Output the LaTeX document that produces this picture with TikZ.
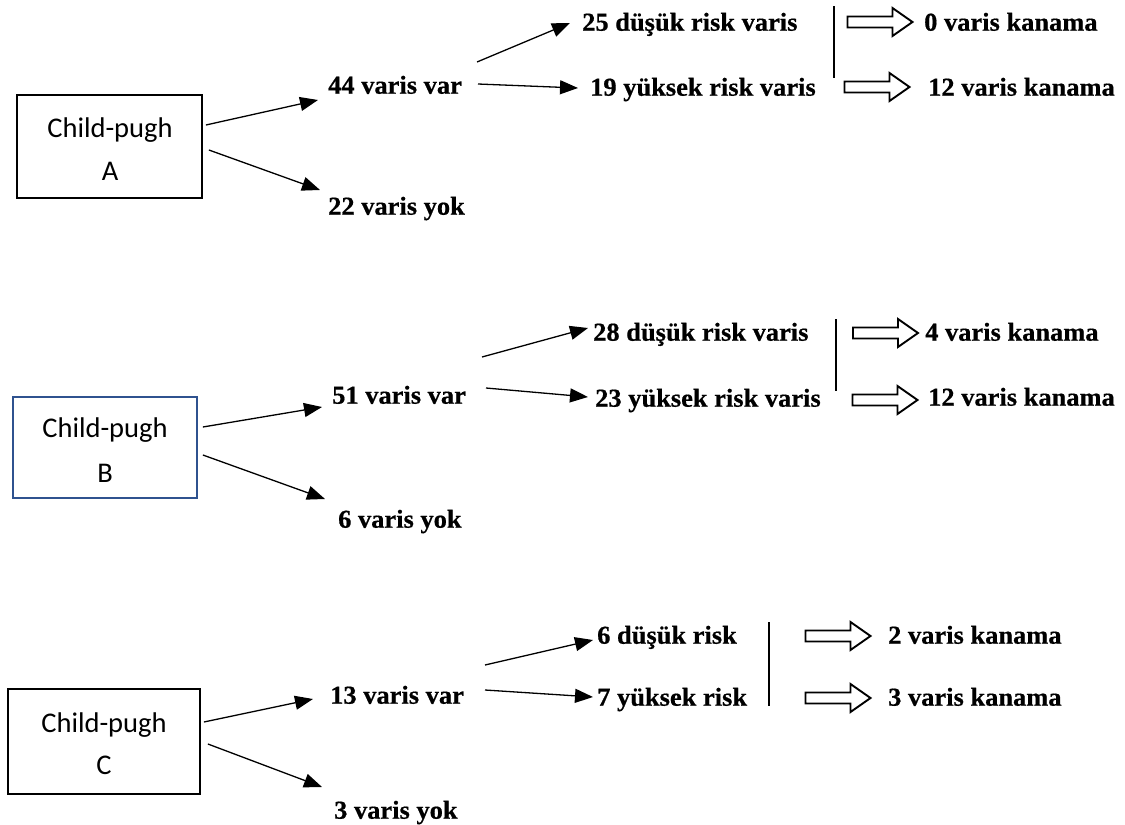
\documentclass[tikz,border=0pt]{standalone}
\usepackage{fontspec}
\usetikzlibrary{arrows.meta}
\newfontfamily\lblfont[FakeBold=0.6,FakeStretch=1.025]{Liberation Serif}
\newfontfamily\boxfont{Carlito}
\definecolor{boxblue}{HTML}{2F528F}
\begin{document}
\begin{tikzpicture}[x=1pt,y=-1pt,
  lbl/.style={anchor=west,inner sep=0pt,text height=17.4pt,text depth=0pt,
    font=\lblfont\bfseries\fontsize{25.8}{30}\selectfont},
  cpbox/.style={draw,line width=1.8pt,inner sep=0pt},
  cptext/.style={anchor=base,inner sep=0pt,font=\boxfont\fontsize{28.5}{34}\selectfont},
  arr/.style={line width=1.3pt,-{Triangle[length=18pt,width=14pt]}},
  divider/.style={line width=1.3pt},
  hollow/.pic={\draw[line width=1.9pt,line join=miter]
    (-32,-5.5) -- (13,-5.5) -- (13,-14) -- (33,0) -- (13,14) -- (13,5.5) -- (-32,5.5) -- cycle;}]
\useasboundingbox (0,0) rectangle (1125,825);

% ---------- Child-pugh A ----------
\node[cpbox,minimum width=185pt,minimum height=103pt] (boxA) at (109.5,146.5) {};
\node[cptext] (boxA-t1) at (110,137) {Child-pugh};
\node[cptext] (boxA-t2) at (110,180) {A};

\node[lbl] (avar)  at (328,85)  {44 varis var};
\node[lbl] (ayok)  at (328,206) {22 varis yok};
\node[lbl] (alow)  at (582,22)  {25 düşük risk varis};
\node[lbl] (ahigh) at (590,87)  {19 yüksek risk varis};
\node[lbl] (ak1)   at (924,22)  {0 varis kanama};
\node[lbl] (ak2)   at (928,87)  {12 varis kanama};

\draw[arr] ([shift={(3,-21.5)}]boxA.east) -- ([shift={(-10,15)}]avar.west);
\draw[arr] ([shift={(6,3.5)}]boxA.east) -- ([shift={(-8,-16)}]ayok.west);
\draw[arr] ([shift={(149,-23)}]avar.west) -- ([shift={(-12,1)}]alow.west);
\draw[arr] ([shift={(150,-1)}]avar.west) -- ([shift={(-12,1)}]ahigh.west);
\draw[divider] (834,6) -- (834,78);
\pic (ha1) at (879.5,22) {hollow};
\pic (ha2) at (876.5,87) {hollow};

% ---------- Child-pugh B ----------
\node[cpbox,draw=boxblue,minimum width=184pt,minimum height=101pt] (boxB) at (105,447.5) {};
\node[cptext] (boxB-t1) at (105,437) {Child-pugh};
\node[cptext] (boxB-t2) at (105,482) {B};

\node[lbl] (bvar)  at (332,395) {51 varis var};
\node[lbl] (byok)  at (338,519) {6 varis yok};
\node[lbl] (blow)  at (593,332) {28 düşük risk varis};
\node[lbl] (bhigh) at (595,398) {23 yüksek risk varis};
\node[lbl] (bk1)   at (925,332) {4 varis kanama};
\node[lbl] (bk2)   at (928,397) {12 varis kanama};

\draw[arr] ([shift={(5,-20.5)}]boxB.east) -- ([shift={(-10,12)}]bvar.west);
\draw[arr] ([shift={(5,7.5)}]boxB.east) -- ([shift={(-13,-20)}]byok.west);
\draw[arr] ([shift={(150,-38)}]bvar.west) -- ([shift={(-5,-4)}]blow.west);
\draw[arr] ([shift={(154,-7)}]bvar.west) -- ([shift={(-7,-1)}]bhigh.west);
\draw[divider] (836,319) -- (836,391);
\pic (hb1) at (885,333) {hollow};
\pic (hb2) at (884.5,400) {hollow};

% ---------- Child-pugh C ----------
\node[cpbox,minimum width=192pt,minimum height=105pt] (boxC) at (104,741.5) {};
\node[cptext] (boxC-t1) at (104,732) {Child-pugh};
\node[cptext] (boxC-t2) at (104,774) {C};

\node[lbl] (cvar)  at (330,695) {13 varis var};
\node[lbl] (cyok)  at (334,810) {3 varis yok};
\node[lbl] (clow)  at (597,635) {6 düşük risk};
\node[lbl] (chigh) at (597,697) {7 yüksek risk};
\node[lbl] (ck1)   at (888,635) {2 varis kanama};
\node[lbl] (ck2)   at (888,697) {3 varis kanama};

\draw[arr] ([shift={(3,-19.5)}]boxC.east) -- ([shift={(-17,4)}]cvar.west);
\draw[arr] ([shift={(7,2.5)}]boxC.east) -- ([shift={(-12,-23)}]cyok.west);
\draw[arr] ([shift={(155,-30)}]cvar.west) -- ([shift={(-4,5)}]clow.west);
\draw[arr] ([shift={(155,-5)}]cvar.west) -- ([shift={(-4,0)}]chigh.west);
\draw[divider] (769,622) -- (769,706);
\pic (hc1) at (837.5,636) {hollow};
\pic (hc2) at (837.5,698) {hollow};
\end{tikzpicture}
\end{document}
